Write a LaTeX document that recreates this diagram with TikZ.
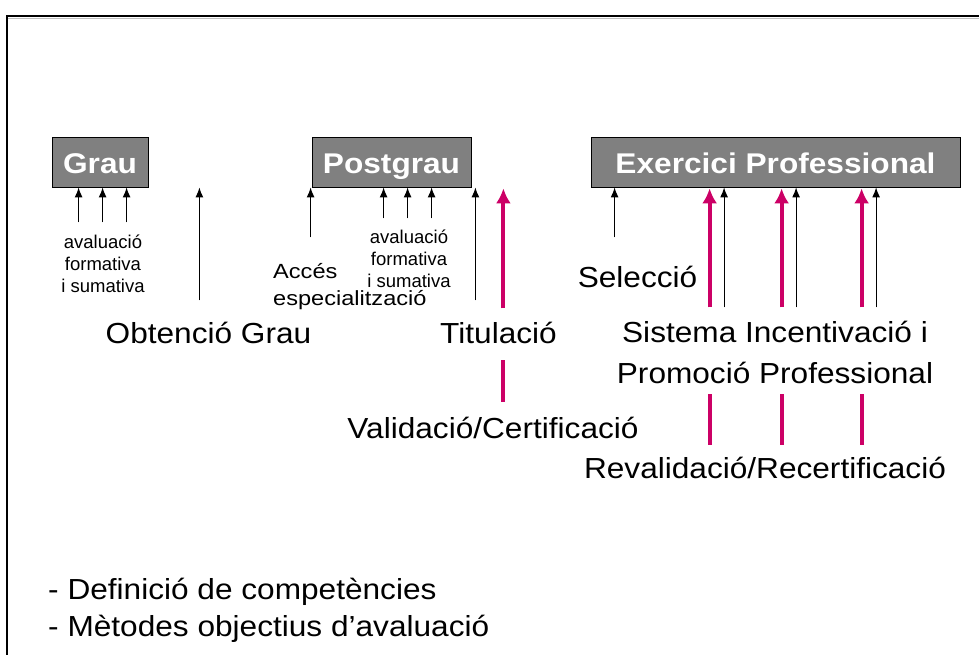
\documentclass[tikz,border=0pt]{standalone}
\usepackage{fontspec}
\usepackage{graphicx}
\setmainfont{Liberation Sans}
\usetikzlibrary{arrows.meta}
\definecolor{boxgray}{RGB}{128,128,128}
\definecolor{accent}{RGB}{204,0,102}
\newcommand{\stagelabel}[1]{\scalebox{1.11}[1]{#1}}
\tikzset{
  stage/.style={draw=black, line width=0.8pt, fill=boxgray, text=white,
    font=\fontsize{28.5}{30}\selectfont\bfseries, inner sep=0pt,
    text height=24pt, text depth=0pt, minimum height=50pt},
  big/.style={font=\fontsize{29}{41}\selectfont, inner sep=0pt, xscale=1.09},
  mid/.style={font=\fontsize{20.5}{27}\selectfont, inner sep=0pt, align=left, xscale=1.15},
  small/.style={font=\fontsize{18.5}{22}\selectfont, inner sep=0pt, align=center},
  rise/.style={-{Latex[length=10pt,width=8pt]}, line width=1.2pt},
  risebold/.style={draw=accent, -{Latex[length=15pt,width=15pt]}, line width=4pt},
  pinkbar/.style={draw=accent, line width=4pt}
}
\begin{document}
\begin{tikzpicture}[x=1pt, y=-1pt]
  \useasboundingbox (0,0) rectangle (979,655);
  % frame
  \draw[line width=2pt] (7,670) -- (7,16.5) -- (990,16.5);
  \draw[black!25, line width=1pt] (8,18.5) -- (990,18.5);

  % stages
  \node[stage, minimum width=96pt] (grau) at (100,162) {\stagelabel{Grau}};
  \node[stage, minimum width=159pt] (postgrau) at (391.5,162) {\stagelabel{Postgrau}};
  \node[stage, minimum width=369pt] (exercici) at (775.5,162) {\stagelabel{Exercici Professional}};

  % grau
  \foreach \d in {27,51,75}
    \draw[rise] ([xshift=\d, yshift=-35]grau.south west) -- ([xshift=\d]grau.south west);
  \draw[rise] ([xshift=51, yshift=-113]grau.south east) -- ([xshift=51]grau.south east);
  \node[small, anchor=base] (avalgrau) at (103,292) {avaluació\\formativa\\i sumativa};
  \node[big, anchor=base] (obtencio) at (208.5,343) {Obtenció Grau};

  % postgrau
  \draw[rise] ([xshift=-1, yshift=-50]postgrau.south west) -- ([xshift=-1]postgrau.south west);
  \foreach \d in {72,96,120}
    \draw[rise] ([xshift=\d, yshift=-31]postgrau.south west) -- ([xshift=\d]postgrau.south west);
  \draw[rise] ([xshift=4, yshift=-113]postgrau.south east) -- ([xshift=4]postgrau.south east);
  \draw[risebold] ([xshift=32, yshift=-121]postgrau.south east) -- ([xshift=32, yshift=-1]postgrau.south east);
  \node[mid, anchor=base west] (acces) at (273,305) {Accés\\especialització};
  \node[small, anchor=base] (avalpost) at (409,287) {avaluació\\formativa\\i sumativa};
  \node[big, anchor=base] (titulacio) at (498.5,343) {Titulació};
  \draw[pinkbar] (503,360) -- (503,402);
  \node[big, anchor=base] (validacio) at (493,438) {Validació/Certificació};

  % exercici
  \draw[rise] ([xshift=24, yshift=-50]exercici.south west) -- ([xshift=24]exercici.south west);
  \foreach \d in {119,191,271} {
    \draw[risebold] ([xshift=\d, yshift=-120]exercici.south west) -- ([xshift=\d, yshift=-1]exercici.south west);
    \draw[rise] ([xshift=\d+14.5, yshift=-120]exercici.south west) -- ([xshift=\d+14.5]exercici.south west);
    \draw[pinkbar] ([xshift=\d, yshift=-207]exercici.south west) -- ([xshift=\d, yshift=-258]exercici.south west);
  }
  \node[big, anchor=base] (seleccio) at (637.5,287) {Selecció};
  \node[big, anchor=base, align=center] (sistema) at (775,383) {Sistema Incentivació i\\Promoció Professional};
  \node[big, anchor=base] (revalidacio) at (765,478) {Revalidació/Recertificació};

  % bottom notes
  \node[big, anchor=base west, align=left, font=\fontsize{29}{37}\selectfont] (notes) at (48,636) {- Definició de competències\\- Mètodes objectius d’avaluació};
\end{tikzpicture}
\end{document}
